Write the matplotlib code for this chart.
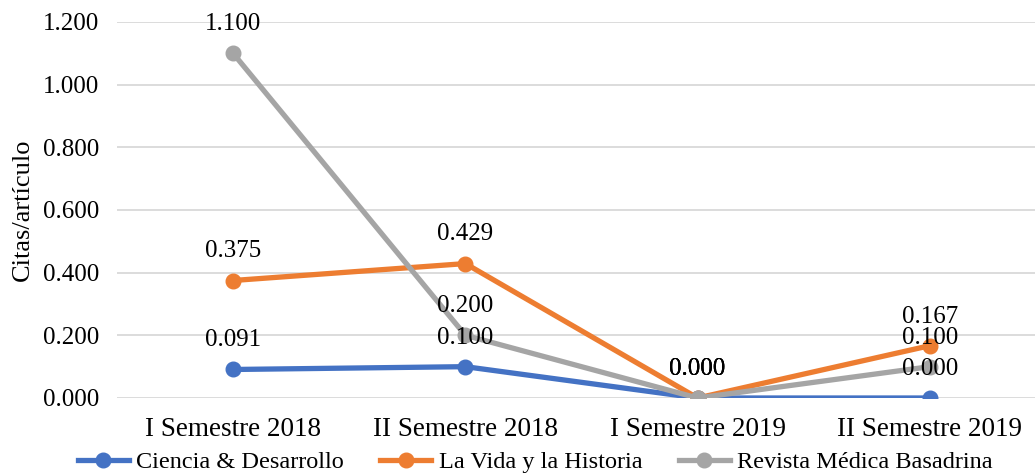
import matplotlib.pyplot as plt
from matplotlib.lines import Line2D

plt.rcParams['font.family'] = ['Liberation Serif', 'DejaVu Serif']

categories = ['I Semestre 2018', 'II Semestre 2018', 'I Semestre 2019', 'II Semestre 2019']
ciencia = [0.091, 0.100, 0.000, 0.000]
la_vida = [0.375, 0.429, 0.000, 0.167]
revista = [1.100, 0.200, 0.000, 0.100]

series = [
    ('Ciencia & Desarrollo', ciencia, '#4472C4'),
    ('La Vida y la Historia', la_vida, '#ED7D31'),
    ('Revista Médica Basadrina', revista, '#A5A5A5'),
]

fig = plt.figure(figsize=(10.35, 4.75), dpi=100)
ax = fig.add_axes([117 / 1035, 77 / 475, 929 / 1035, 376 / 475])

x = list(range(len(categories)))
for name, vals, color in series:
    ax.plot(x, vals, color=color, linewidth=3.8, marker='o', markersize=10.5,
            label=name, solid_capstyle='round', zorder=3)

# data labels above each point
for name, vals, color in series:
    for xi, v in zip(x, vals):
        ax.annotate(f'{v:.3f}', (xi, v), xytext=(0, 21), textcoords='offset points',
                    ha='center', va='center', fontsize=18, color='black', zorder=5)

ax.set_xlim(-0.5, 3.5)
ax.set_ylim(0, 1.2)
yt = [0, 0.2, 0.4, 0.6, 0.8, 1.0, 1.2]
ax.set_yticks(yt)
ax.set_yticklabels([f'{t:.3f}' for t in yt])
ax.set_xticks(x)
ax.set_xticklabels(categories)
ax.tick_params(axis='both', length=0)
ax.tick_params(axis='y', pad=13, labelsize=18)
ax.tick_params(axis='x', pad=14, labelsize=19.5)
ax.grid(axis='y', color='#D9D9D9', linewidth=1.3, zorder=0)
ax.set_axisbelow(True)
for sp in ax.spines.values():
    sp.set_visible(False)
ax.set_ylabel('Citas/artículo', fontsize=19, labelpad=6)

handles = [Line2D([0], [0], color=c, linewidth=3.8, marker='o', markersize=10.5)
           for _, _, c in series]
fig.legend(handles, [s[0] for s in series], loc='center', ncol=3,
           bbox_to_anchor=(0.517, 0.027), frameon=False, fontsize=17.5,
           handlelength=2.1, handletextpad=0.3, columnspacing=1.5)

fig.savefig('out.png', dpi=100)
